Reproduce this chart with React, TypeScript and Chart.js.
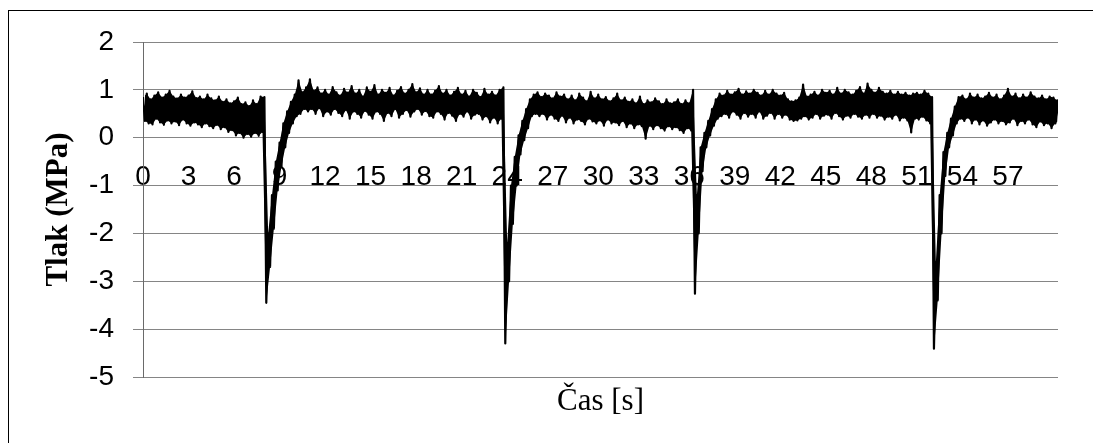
import React, { useEffect, useRef } from "react";
import { Chart, registerables } from "chart.js";

Chart.register(...registerables);

// Sampling: one pair of readings per quarter second (high at t, low at t + 0.125 s)
const SAMPLE_STEP = 0.25;
const X_MAX = 60.3;

// Upper edge of the noisy pressure trace (MPa), one row per second
const highs: number[] = [
  0.85, 0.92, 0.8, 0.88,
  0.95, 0.84, 0.9, 0.98,
  0.86, 0.82, 0.9, 0.84,
  0.88, 0.97, 0.83, 0.86,
  0.8, 0.9, 0.82, 0.78,
  0.86, 0.75, 0.8, 0.72,
  0.76, 0.84, 0.7, 0.74,
  0.66, 0.78, 0.7, 0.86,
  0.85, -2.0, -1.2, -0.5,
  -0.1, 0.3, 0.55, 0.75,
  0.9, 1.2, 0.95, 1.05,
  1.22, 0.98, 1.05, 0.92,
  1.0, 0.9, 1.06, 0.95,
  0.88, 1.02, 0.94, 1.08,
  0.92, 1.0, 0.86, 1.05,
  0.96, 1.1, 0.9, 1.0,
  0.94, 1.04, 0.88, 0.98,
  1.06, 0.92, 1.0, 1.12,
  0.95, 1.03, 0.9, 1.0,
  0.9, 0.98, 1.08, 0.92,
  1.0, 0.88, 0.96, 1.04,
  0.9, 0.98, 0.86, 1.0,
  0.94, 0.85, 1.02, 0.9,
  0.96, 0.88, 1.0, 1.05,
  -2.2, -1.0, -0.4, 0.05,
  0.35, 0.6, 0.8, 0.9,
  0.95, 0.85, 0.92, 0.88,
  0.82, 0.95, 0.86, 0.9,
  0.8, 0.88, 0.78, 0.92,
  0.84, 0.76, 0.96, 0.82,
  0.9, 0.8, 0.85, 0.76,
  0.82, 0.92, 0.78, 0.84,
  0.75, 0.8, 0.72, 0.86,
  0.7, 0.78, 0.74, 0.82,
  0.76, 0.7, 0.8, 0.72,
  0.74, 0.8, 0.7, 0.78,
  0.72, 1.0, -1.2, -0.2,
  0.1, 0.35, 0.6, 0.8,
  0.92, 0.88, 0.98, 0.9,
  0.95, 1.02, 0.9, 0.97,
  0.92, 1.0, 0.94, 0.88,
  0.98, 0.9, 1.0, 0.92,
  0.88, 0.94, 0.8, 0.76,
  0.78, 0.84, 1.11, 0.86,
  0.9, 0.96, 0.88, 1.0,
  0.94, 0.98, 0.9, 1.04,
  0.92, 1.0, 0.95, 0.9,
  0.98, 1.06, 0.92, 1.13,
  1.0, 0.94, 1.04, 0.96,
  0.92, 0.98, 0.9, 0.96,
  0.9, 0.94, 0.88, 0.92,
  0.94, 0.9, 0.98, 0.92,
  0.85, -2.6, -1.2, -0.3,
  0.1, 0.4, 0.65, 0.85,
  0.88, 0.8, 0.92, 0.84,
  0.9, 0.82, 0.86, 0.94,
  0.84, 0.9, 0.8, 0.88,
  1.02, 0.86, 0.92, 0.82,
  0.9, 0.84, 0.95, 0.86,
  0.82, 0.88, 0.8, 0.86,
  0.84, 0.78,
];

// Lower edge of the noisy pressure trace (MPa), one row per second
const lows: number[] = [
  0.35, 0.3, 0.28, 0.4,
  0.32, 0.27, 0.36, 0.3,
  0.34, 0.26, 0.38, 0.3,
  0.25, 0.32, 0.28, 0.22,
  0.3, 0.24, 0.2, 0.27,
  0.18, 0.22, 0.12, 0.16,
  0.05, 0.1, 0.0, 0.08,
  0.02, 0.1, 0.04, 0.12,
  -3.45, -2.7, -1.9, -1.1,
  -0.6, -0.2, 0.1, 0.3,
  0.45, 0.5, 0.6, 0.55,
  0.6, 0.5, 0.62, 0.45,
  0.55, 0.48, 0.6, 0.52,
  0.45, 0.58, 0.4, 0.55,
  0.5, 0.42, 0.56, 0.48,
  0.4, 0.55, 0.5, 0.35,
  0.52, 0.45, 0.6, 0.42,
  0.5, 0.58, 0.44, 0.55,
  0.6, 0.48, 0.56, 0.45,
  0.42, 0.55, 0.5, 0.38,
  0.52, 0.46, 0.35, 0.5,
  0.44, 0.55, 0.4, 0.48,
  0.5, 0.38, 0.45, 0.32,
  0.42, 0.3, 0.4, -4.3,
  -3.0, -1.8, -1.0, -0.35,
  -0.05, 0.2, 0.45, 0.5,
  0.45, 0.5, 0.38, 0.48,
  0.4, 0.35, 0.46, 0.32,
  0.42, 0.3, 0.38, 0.35,
  0.28, 0.4, 0.34, 0.3,
  0.36, 0.25, 0.38, 0.3,
  0.32, 0.26, 0.35, 0.22,
  0.3, 0.2, 0.28, 0.24,
  -0.02, 0.25, 0.18, 0.26,
  0.2, 0.15, 0.24, 0.18,
  0.22, 0.16, 0.1, 0.2,
  0.15, -3.26, -2.0, -0.7,
  -0.2, 0.05, 0.25, 0.4,
  0.45, 0.5, 0.42, 0.55,
  0.48, 0.4, 0.52, 0.44,
  0.5, 0.42, 0.55, 0.4,
  0.46, 0.52, 0.4, 0.5,
  0.42, 0.48, 0.38, 0.35,
  0.36, 0.4, 0.45, 0.38,
  0.42, 0.5, 0.4, 0.46,
  0.48, 0.4, 0.52, 0.45,
  0.38, 0.46, 0.42, 0.5,
  0.44, 0.4, 0.48, 0.42,
  0.5, 0.42, 0.46, 0.38,
  0.44, 0.4, 0.48, 0.36,
  0.42, 0.36, 0.11, 0.4,
  0.38, 0.44, 0.36, 0.3,
  -4.41, -3.4, -2.0, -0.8,
  -0.2, 0.05, 0.3, 0.4,
  0.35, 0.42, 0.3, 0.38,
  0.28, 0.36, 0.25, 0.32,
  0.38, 0.3, 0.35, 0.28,
  0.32, 0.4, 0.26, 0.35,
  0.3, 0.38, 0.28, 0.22,
  0.34, 0.26, 0.3, 0.2,
  0.3, 0.36,
];

const X_TICK_LABELS: number[] = [0, 3, 6, 9, 12, 15, 18, 21, 24, 27, 30, 33, 36, 39, 42, 45, 48, 51, 54, 57];
const Y_TICK_VALUES: number[] = [-5, -4, -3, -2, -1, 0, 1, 2];

const X_TITLE = "Čas [s]";
const Y_TITLE = "Tlak (MPa)";

export default function App() {
  const canvasRef = useRef<HTMLCanvasElement | null>(null);

  useEffect(() => {
    const canvas = canvasRef.current;
    if (!canvas) return;

    const trace: { x: number; y: number }[] = [];
    const upperEdge: { x: number; y: number }[] = [];
    const lowerEdge: { x: number; y: number }[] = [];
    highs.forEach((h, i) => {
      const t = i * SAMPLE_STEP;
      trace.push({ x: t, y: h });
      upperEdge.push({ x: t, y: h });
      if (i < lows.length) {
        trace.push({ x: t + SAMPLE_STEP / 2, y: lows[i] });
        lowerEdge.push({ x: t + SAMPLE_STEP / 2, y: lows[i] });
      }
    });

    const tickFont = { family: "'Liberation Sans', Arial, sans-serif", size: 28 };
    const gridColor = "#858585";

    const chart = new Chart(canvas, {
      type: "line",
      data: {
        datasets: [
          {
            data: upperEdge,
            borderWidth: 0,
            borderColor: "rgba(0,0,0,0)",
            pointRadius: 0,
            tension: 0,
            fill: false,
          },
          {
            data: lowerEdge,
            borderWidth: 0,
            borderColor: "rgba(0,0,0,0)",
            backgroundColor: "#000000",
            pointRadius: 0,
            tension: 0,
            fill: "-1",
          },
          {
            data: trace,
            borderColor: "#000000",
            borderWidth: 2.2,
            borderJoinStyle: "round",
            pointRadius: 0,
            tension: 0,
            fill: false,
          },
        ],
      },
      options: {
        animation: false,
        responsive: false,
        events: [],
        layout: { padding: { left: 40, top: 42, right: 35, bottom: 23 } },
        plugins: { legend: { display: false }, tooltip: { enabled: false } },
        scales: {
          x: {
            type: "linear",
            position: { y: 0 } as any,
            min: 0,
            max: X_MAX,
            grid: { display: false, drawTicks: false },
            border: { display: false },
            afterBuildTicks: (scale: any) => {
              scale.ticks = X_TICK_LABELS.map((v) => ({ value: v }));
            },
            ticks: {
              autoSkip: false,
              maxRotation: 0,
              minRotation: 0,
              padding: 23,
              color: "#000000",
              font: tickFont,
              callback: (v: any) => String(v),
            },
          },
          xTitle: {
            type: "linear",
            position: "bottom",
            min: 0,
            max: 1,
            grid: { display: false, drawTicks: false },
            border: { display: false },
            ticks: { display: false },
            title: {
              display: true,
              text: X_TITLE,
              color: "#000000",
              padding: 0,
              font: { family: "'Liberation Serif', 'Times New Roman', serif", size: 31 },
            },
            afterFit: (scale: any) => {
              scale.height = 43;
            },
          },
          y: {
            type: "linear",
            position: "left",
            min: -5,
            max: 2,
            afterBuildTicks: (scale: any) => {
              scale.ticks = Y_TICK_VALUES.map((v) => ({ value: v }));
            },
            grid: { color: gridColor, lineWidth: 1, tickLength: 10, drawTicks: true },
            border: { display: true, color: "#6a6a6a", width: 1 },
            ticks: {
              padding: 19,
              color: "#000000",
              font: tickFont,
            },
            title: {
              display: true,
              text: Y_TITLE,
              color: "#000000",
              padding: 0,
              font: { family: "'Liberation Serif', 'Times New Roman', serif", size: 31, weight: "bold" },
            },
            afterFit: (scale: any) => {
              scale.width = 103;
            },
          },
        },
      },
    });

    return () => chart.destroy();
  }, []);

  return (
    <div style={{ position: "relative", width: 1093, height: 443, overflow: "hidden", background: "#ffffff" }}>
      <style>{"html,body{margin:0;padding:0;overflow:hidden;background:#fff}"}</style>
      <div
        style={{
          position: "absolute",
          left: 8,
          top: 10,
          width: 1200,
          height: 600,
          border: "1px solid #000000",
          boxSizing: "border-box",
        }}
      />
      <canvas
        ref={canvasRef}
        width={1093}
        height={443}
        style={{ position: "absolute", left: 0, top: 0, width: 1093, height: 443 }}
      />
    </div>
  );
}
